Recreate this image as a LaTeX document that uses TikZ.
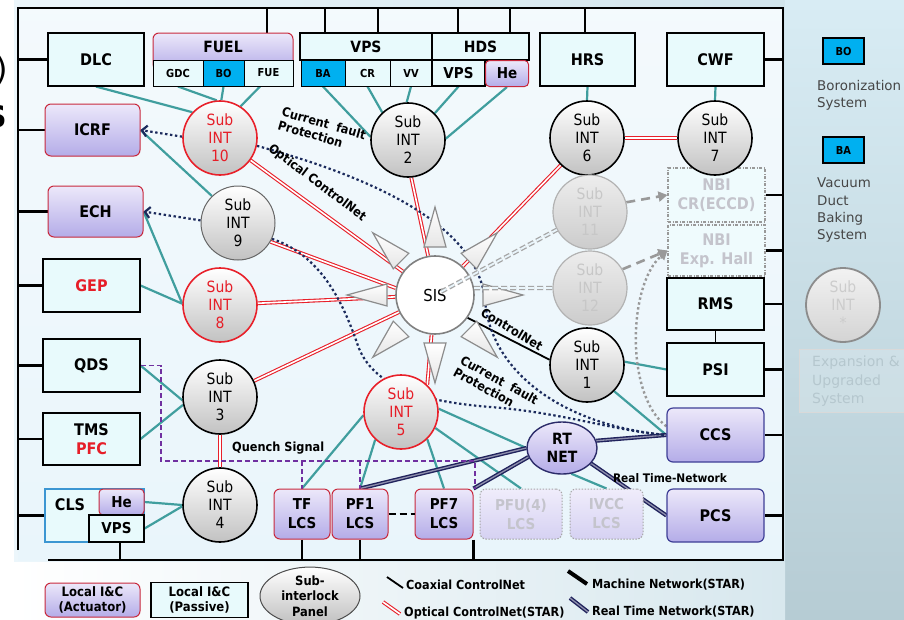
\documentclass[tikz,border=0pt]{standalone}
\usepackage{fontspec}
\setmainfont{DejaVu Sans Condensed}[BoldFont=DejaVu Sans Condensed Bold]
\newfontfamily\plainsans{DejaVu Sans}
\usetikzlibrary{shapes.geometric,calc,arrows.meta}
\pgfdeclarelayer{backdrop}
\pgfdeclarelayer{links}
\pgfsetlayers{backdrop,links,main}

\definecolor{tealln}{RGB}{64,158,158}
\definecolor{redopt}{RGB}{232,32,42}
\definecolor{navydot}{RGB}{27,42,92}
\definecolor{navyrt}{RGB}{32,34,92}
\definecolor{lavtop}{RGB}{236,232,250}
\definecolor{lavbot}{RGB}{180,172,232}
\definecolor{cyanfill}{RGB}{232,250,252}
\definecolor{bofill}{RGB}{0,176,240}
\definecolor{qpurple}{RGB}{112,48,160}
\definecolor{boxred}{RGB}{200,40,60}
\definecolor{rtborder}{RGB}{62,62,150}
\definecolor{txtred}{RGB}{230,30,40}
\definecolor{fadetext}{RGB}{196,196,204}
\definecolor{clsblue}{RGB}{60,150,210}
\definecolor{bgIn}{RGB}{233,245,251}
\definecolor{bgA}{RGB}{236,246,251}
\definecolor{bgB}{RGB}{206,226,234}
\definecolor{bgC}{RGB}{216,236,244}
\definecolor{bgD}{RGB}{182,204,212}
\definecolor{legtext}{RGB}{70,70,70}

\newcommand\fsz[2]{\fontsize{#1}{#2}\selectfont}

\begin{document}
\begin{tikzpicture}[x=1pt,y=-1pt,
  sz/.style 2 args={minimum width=#1, minimum height=#2},
  passive/.style={draw=black, line width=1.1pt, fill=cyanfill, inner sep=0pt,
    align=center, font=\bfseries\fsz{16}{19}},
  actuator/.style={draw=boxred, line width=1pt, rounded corners=6pt,
    top color=lavtop, bottom color=lavbot, inner sep=0pt, align=center,
    font=\bfseries\fsz{16}{19}},
  central/.style={actuator, draw=rtborder, line width=1.2pt},
  lcs/.style={actuator, font=\bfseries\fsz{15}{19}},
  fadelcs/.style={lcs, draw=black!35, dash pattern=on 1.5pt off 1.5pt,
    top color=lavtop!80!white, bottom color=lavbot!55!white, text=fadetext},
  fadebox/.style={passive, draw=black!40, dash pattern=on 3pt off 1.5pt on 1pt off 1.5pt,
    fill=cyanfill!70!white, text=fadetext},
  cell/.style={draw=black, line width=1pt, fill=cyanfill, inner sep=0pt,
    font=\bfseries\fsz{11}{13}},
  subint/.style={circle, draw=black, line width=1.6pt, top color=white,
    bottom color=black!24, minimum size=74pt, inner sep=0pt, align=center,
    font=\fsz{15.5}{18}},
  subred/.style={subint, draw=redopt, text=txtred},
  subgray/.style={subint, draw=black!60, line width=1pt},
  subfade/.style={subint, draw=black!30, line width=1.2pt, top color=black!7,
    bottom color=black!20, text=black!22},
  teal/.style={draw=tealln, line width=2.2pt},
  optln/.style={draw=redopt, double=white, line width=1.1pt, double distance=1.6pt},
  rtln/.style={draw=navyrt, double=navyrt!50!white, line width=1.4pt, double distance=1.3pt},
  cfp/.style={draw=navydot, line width=2.2pt, dash pattern=on 2.4pt off 2.6pt},
  gdash/.style={draw=black!40, line width=2.6pt, dash pattern=on 9pt off 6pt},
  gdot/.style={draw=black!40, line width=2.4pt, dash pattern=on 2.4pt off 2.6pt},
  fadeln/.style={draw=black!35, double=bgIn, line width=1.3pt, double distance=1.8pt,
    dash pattern=on 6pt off 3pt},
  bus/.style={draw=black, line width=2.6pt},
  qsig/.style={draw=qpurple, line width=1.6pt, dash pattern=on 5pt off 3pt},
  spike/.style={draw=black!45, line width=1.2pt, top color=white, bottom color=black!10},
  tag/.style={font=\bfseries\fsz{12.6}{14}, inner sep=0pt},
  legtag/.style={font=\bfseries\fsz{12.5}{14}, inner sep=0pt, anchor=base west}
]
\useasboundingbox (0,0) rectangle (904,619);
\clip (0,0) rectangle (904,619);

% ---------- backdrop ----------
\begin{pgfonlayer}{backdrop}
  \fill[white] (0,0) rectangle (904,619);
  \shade[left color=bgA, right color=bgB] (14,0) rectangle (904,619);
  \shade[top color=bgC, bottom color=bgD] (785,0) rectangle (904,619);
  \shade[left color=white, right color=bgB!80!white] (14,562) rectangle (785,619);
  \shade[top color=bgA!60!white, bottom color=bgIn] (18,8) rectangle (783,560);
\end{pgfonlayer}

% edge of the neighbouring text
\node[anchor=east, font=\plainsans\fsz{32}{34}, inner sep=0pt] (frag1) at (8,70) {)};
\node[anchor=east, font=\plainsans\bfseries\fsz{30}{32}, inner sep=0pt] (frag2) at (7,117) {S};

% ---------- left column ----------
\node[passive, sz={96}{53}] (dlc) at (96,59.5) {DLC};
\node[actuator, sz={95}{52}] (icrf) at (92.5,130) {ICRF};
\node[actuator, sz={95}{51}] (ech) at (95.5,211.5) {ECH};
\node[passive, sz={97}{53}, text=txtred] (gep) at (91.5,285.5) {GEP};
\node[passive, sz={97}{53}] (qds) at (91.5,365.5) {QDS};
\node[passive, sz={97}{52}] (tms) at (91.5,439) {TMS\\\textcolor{txtred}{PFC}};
\node[passive, draw=clsblue, sz={99}{53}] (cls) at (94.5,515.5) {};
\node[font=\bfseries\fsz{16}{17}, inner sep=0pt] (clst) at (70,505) {CLS};
\node[actuator, rounded corners=4pt, sz={45}{26}, font=\bfseries\fsz{15}{16}] (clshe) at (121.5,502) {He};
\node[passive, sz={55}{27}, font=\bfseries\fsz{15}{16}] (clsvps) at (116.5,528.5) {VPS};

% ---------- top row ----------
\node[actuator, sz={140}{37}] (fuelhd) at (223,51.5) {};
\node[font=\bfseries\fsz{15.5}{16}, inner sep=0pt] (fuelt) at (223,47) {FUEL};
\node[cell, sz={50}{26}] (gdc) at (178,73) {GDC};
\node[cell, fill=bofill, sz={41}{26}] (bo) at (223.5,73) {BO};
\node[cell, sz={49}{26}] (fue) at (268.5,73) {FUE};

\node[passive, sz={132}{27}, font=\bfseries\fsz{15.5}{16}] (vpshd) at (366,46.5) {VPS};
\node[passive, sz={97}{27}, font=\bfseries\fsz{15.5}{16}] (hdshd) at (480.5,46.5) {HDS};
\node[cell, fill=bofill, sz={44}{26}] (ba) at (323,73) {BA};
\node[cell, sz={45}{26}] (cr) at (367.5,73) {CR};
\node[cell, sz={42}{26}] (vv) at (411,73) {VV};
\node[passive, sz={53}{26}, font=\bfseries\fsz{15}{16}] (hvps) at (458.5,73) {VPS};
\node[actuator, rounded corners=4pt, sz={43}{26}, font=\bfseries\fsz{15}{16}] (hhe) at (507,73.5) {He};

\node[passive, sz={95}{53}] (hrs) at (587.5,59.5) {HRS};
\node[passive, sz={97}{53}] (cwf) at (715.5,59.5) {CWF};

% ---------- right column ----------
\node[fadebox, sz={97}{54}] (nbicr) at (716.5,195) {NBI\\CR(ECCD)};
\node[fadebox, sz={97}{51}] (nbiexp) at (716.5,250.5) {NBI\\Exp. Hall};
\node[passive, sz={97}{52}] (rms) at (715.5,304) {RMS};
\node[passive, sz={97}{53}] (psi) at (715.5,369.5) {PSI};
\node[central, sz={97}{54}] (ccs) at (715.5,435) {CCS};
\node[central, sz={97}{53}] (pcs) at (715.5,515.5) {PCS};

% ---------- local control systems ----------
\node[lcs, sz={56}{50}] (tf) at (302,514) {TF\\LCS};
\node[lcs, sz={56}{50}] (pf1) at (360,514) {PF1\\LCS};
\node[lcs, sz={58}{50}] (pf7) at (444,514) {PF7\\LCS};
\node[fadelcs, sz={82}{50}] (pfu) at (521,514) {PFU(4)\\LCS};
\node[fadelcs, sz={73}{50}] (ivcc) at (606.5,514) {IVCC\\LCS};

% ---------- sub-interlock panels ----------
\node[subred] (s10) at (220,138) {Sub\\INT\\10};
\node[subint] (s2) at (408,140) {Sub\\INT\\2};
\node[subint] (s6) at (587,138) {Sub\\INT\\6};
\node[subint] (s7) at (715,138) {Sub\\INT\\7};
\node[subgray] (s9) at (238,223) {Sub\\INT\\9};
\node[subfade] (s11) at (590,212) {Sub\\INT\\11};
\node[subfade] (s12) at (590,288) {Sub\\INT\\12};
\node[subred] (s8) at (220,305) {Sub\\INT\\8};
\node[subint] (s1) at (587,365) {Sub\\INT\\1};
\node[subint] (s3) at (220,397) {Sub\\INT\\3};
\node[subint] (s4) at (220,505) {Sub\\INT\\4};
\node[subred] (s5) at (401,412) {Sub\\INT\\5};
\node[circle, draw=black!50, line width=1.6pt, fill=white, minimum size=78pt,
  inner sep=0pt, font=\fsz{16.5}{18}] (sis) at (435,295) {SIS};
\node[ellipse, draw=rtborder!70!black, line width=1.4pt, top color=lavtop,
  bottom color=lavbot, minimum width=70pt, minimum height=52pt, inner sep=0pt,
  align=center, font=\bfseries\fsz{15.5}{18}] (rtnet) at (562,448) {RT\\NET};

% ---------- connectors ----------
\begin{pgfonlayer}{links}
  % machine network bus
  \coordinate (cTL) at (18,8);
  \coordinate (cTR) at (783,8);
  \coordinate (cBR) at (783,560);
  \coordinate (cBL) at (48,560);
  \coordinate (cLB) at (18,550);
  \draw[bus] (cLB) -- (cTL) -- (cTR) -- (cBR) -- (cBL);
  \foreach \n in {dlc,icrf,ech,gep,qds,tms,cls}
    \draw[bus] (\n.west) -- (\n.west -| cTL);
  \foreach \n in {cwf,nbicr,nbiexp,rms,psi,ccs,pcs}
    \draw[bus] (\n.east) -- (\n.east -| cTR);
  \foreach \x/\n [count=\i] in {267/fuelhd,325/vpshd,378/vpshd,458/hdshd,510/hdshd,585/hrs} {
    \coordinate (tk\i) at (\x,8);
    \draw[bus] (tk\i) -- (tk\i |- \n.north);
  }
  \coordinate (bk1) at (120,560);
  \draw[bus] (bk1) -- (bk1 |- clsvps.south);
  \draw[bus] (tf.south) -- (tf.south |- cBR);
  \draw[bus] (pf1.south) -- (pf1.south |- cBR);
  \draw[bus] (pf7.south east) -- (pf7.south east |- cBR);
  \draw[draw=black, line width=1.8pt] (rms.south) -- (psi.north);

  % local links
  \draw[teal] (dlc.south) -- (s10.137);
  \draw[teal] (gdc.south) -- (s10.95);
  \draw[teal] (bo.south) -- (s10.88);
  \draw[teal] ($(fue.south west)!0.33!(fue.south east)$) -- (s10.57);
  \draw[teal] (icrf.east) -- (s9.134);
  \draw[teal] (ech.east) -- (s8.178);
  \draw[teal] (gep.east) -- (s8.178);
  \draw[teal] (qds.east) -- (s3.185);
  \draw[teal] (tms.east) -- (s3.192);
  \draw[teal] (clshe.east) -- (s4.180);
  \draw[teal] (clsvps.east) -- (s4.182);
  \draw[teal] (ba.south) -- (s2.175);
  \draw[teal] (cr.south) -- (s2.133);
  \draw[teal] (vv.south) -- (s2.92);
  \draw[teal] (hvps.south) -- (s2.45);
  \draw[teal] (hhe.south) -- (s2.2);
  \draw[teal] (hrs.south) -- (s6.north);
  \draw[teal] (cwf.south) -- (s7.north);
  \draw[teal] (s1.5) -- (psi.west);
  \draw[teal] (s1.-44) -- (ccs.west);
  \draw[teal] (s5.185) -- (tf.north);
  \draw[teal] (s5.227) -- (pf1.north);
  \draw[teal] (s5.314) -- (pf7.north);
  \draw[teal] (s5.335) -- (pfu.north);
  \draw[teal] (s5.5) -- (rtnet.west);
  \draw[teal] (rtnet.-70) -- (ivcc.north);

  % optical ControlNet star
  \draw[optln] (s10) -- (sis);
  \draw[optln] (s9.-30) -- (sis.170);
  \draw[optln] (s8) -- (sis);
  \draw[optln] (s3) -- (sis);
  \draw[optln] (s2.-85) -- (sis.100);
  \draw[optln] (s6) -- (sis);
  \draw[optln] (s6) -- (s7);
  \draw[optln] (sis.-95) -- (s5.46);
  \draw[optln] (s3) -- (s4);

  % coaxial ControlNet
  \draw[draw=black, line width=1.8pt] (sis.-35) -- (s1.172);

  % real time network
  \draw[rtln] (rtnet.12) -- (ccs.west);
  \draw[rtln] (rtnet.-28) -- (pcs.west);
  \draw[rtln] (rtnet.west) -- (pf1.north);
  \draw[rtln] (rtnet.195) -- (pf7.north east);

  % current fault protection
  \draw[cfp, -{Straight Barb[length=5pt,width=11pt]}] (s10.178) -- (icrf.east);
  \draw[cfp, -{Straight Barb[length=5pt,width=11pt]}] (s9.176) -- (ech.east);
  \draw[cfp] (s10.-12) .. controls (400,185) and (478,235) .. (485,300)
    .. controls (490,370) and (560,425) .. (ccs.west);
  \draw[cfp] (s9.-25) .. controls (320,255) and (342,300) .. (357,343)
    .. controls (372,390) and (430,402) .. (490,407)
    .. controls (560,412) and (620,432) .. (ccs.west);

  % NBI links
  \draw[gdash, -{Triangle[length=9pt,width=10pt]}] (s11.15) -- (nbicr.west);
  \draw[gdash, -{Triangle[length=9pt,width=10pt]}] (s12.30) -- (nbiexp.west);
  \draw[gdot, -{Triangle[length=9pt,width=10pt]}] (ccs.170) .. controls (625,395) and (628,285) .. (nbiexp.west);

  % quench signal
  \coordinate (qa) at (161,461);
  \coordinate (qb) at (475,461);
  \draw[qsig] (qds.east) -| (qa) -- (qb) -- (qb |- pf7.north);
  \draw[qsig] (tf.north |- qa) -- (tf.north);
  \draw[qsig] (pf1.north |- qa) -- (pf1.north);
\end{pgfonlayer}

\draw[line width=2.5pt, dash pattern=on 7pt off 4pt] (pf1.east) -- (pf7.west);

% arrows round the SIS
\foreach \a in {0,45,...,315}
  \draw[spike] ($(sis.center)+(\a:88)$) -- ($(sis.center)+(\a:48)+({\a+90}:11)$)
    -- ($(sis.center)+(\a:48)+({\a-90}:11)$) -- cycle;
\draw[fadeln, shorten <=7pt] (sis.center) -- (s11);
\draw[fadeln] (sis.10) -- (s12.west);

% connector labels
\node[tag, rotate=-16, align=left] (lcf1) at (322,130) {Current\ \ fault\\Protection};
\node[tag, rotate=-37] (lopt) at (317,183) {Optical ControlNet};
\node[tag, rotate=-31] (lcnet) at (512,329) {ControlNet};
\node[tag, rotate=-29, align=left] (lcf2) at (496,386) {Current\ \ fault\\Protection};
\node[tag, anchor=west] (lq) at (232,448) {Quench Signal};
\node[tag, font=\bfseries\fsz{11.8}{13}] (lrt) at (670,478) {Real Time-Network};

% ---------- legend ----------
\node[actuator, sz={95}{34}, font=\bfseries\fsz{13}{15}] (legact) at (92.5,600) {Local I\&C\\(Actuator)};
\node[passive, sz={97}{35}, font=\bfseries\fsz{13}{15}] (legpas) at (199.5,600) {Local I\&C\\(Passive)};
\node[ellipse, draw=black!70, line width=1pt, top color=white, bottom color=black!25,
  minimum width=100pt, minimum height=54pt, inner sep=0pt, align=center,
  font=\bfseries\fsz{12.8}{15.5}] (legpan) at (310,596) {Sub-\\interlock\\Panel};

\draw[draw=black, line width=1.8pt] (387,577) -- (403,588);
\node[legtag] (lg1) at (406,589) {Coaxial ControlNet};
\draw[optln] (383,602) -- (400,614);
\node[legtag] (lg2) at (404,616) {Optical ControlNet(STAR)};
\draw[draw=black, line width=4pt] (568,571) -- (587,584);
\node[legtag] (lg3) at (592,588) {Machine Network(STAR)};
\draw[rtln] (570,598) -- (588,612);
\node[legtag] (lg4) at (592,615) {Real Time Network(STAR)};

\node[cell, fill=bofill, line width=1.4pt, sz={41}{26}] (lbo) at (843.5,51) {BO};
\node[anchor=north west, align=left, inner sep=0pt, text=legtext, font=\plainsans\fsz{13.4}{17}] (lbot) at (817,80) {Boronization\\System};
\node[cell, fill=bofill, line width=1.4pt, sz={41}{26}] (lba) at (843.5,150) {BA};
\node[anchor=north west, align=left, inner sep=0pt, text=legtext, font=\plainsans\fsz{13.4}{17.3}] (lbat) at (817,178) {Vacuum\\Duct\\Baking\\System};

\node[subfade, draw=black!45, line width=1.8pt, top color=black!5, bottom color=black!17,
  text=black!20] (sstar) at (843,305) {Sub\\INT\\*};
\node[draw=black!15, fill=white, fill opacity=0.18, sz={112}{63}, anchor=north west] (upg) at (799,349) {};
\node[anchor=north west, align=left, inner sep=0pt, text=bgB!88!black, font=\plainsans\fsz{14}{18.5}] (upgt) at (812,356) {Expansion \&\\Upgraded\\System};
\end{tikzpicture}
\end{document}
